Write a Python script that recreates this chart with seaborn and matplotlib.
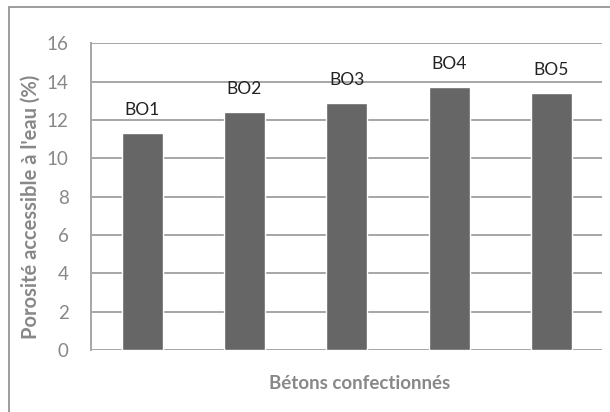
import matplotlib
matplotlib.use("Agg")
import matplotlib.pyplot as plt
import seaborn as sns
import pandas as pd
from matplotlib.patches import Rectangle

# Data
betons = ["BO1", "BO2", "BO3", "BO4", "BO5"]
porosite = [11.3, 12.4, 12.9, 13.7, 13.4]
y_ticks = [0, 2, 4, 6, 8, 10, 12, 14, 16]

df = pd.DataFrame({"beton": betons, "porosite": porosite})

sns.set_style("white")
plt.rcParams['font.family'] = ['Lato', 'DejaVu Sans']

grid_col = "#a6a6a6"
text_col = "#888888"

fig = plt.figure(figsize=(6.1, 4.12), dpi=100)
ax = fig.add_axes([0.1492, 0.1505, 0.8385, 0.7442])

sns.barplot(data=df, x="beton", y="porosite", color="#666666",
            saturation=1, width=0.4, ax=ax, zorder=3)

ax.set_ylim(0, 16)
ax.set_yticks(y_ticks)
ax.yaxis.grid(True, color=grid_col, linewidth=1.4, zorder=0)
ax.set_axisbelow(True)

# bar labels
ax.bar_label(ax.containers[0], labels=betons, padding=11, fontsize=12.5, color="#222222")

ax.set_xticks([])
ax.tick_params(axis="y", length=4.5, width=1.2, color=grid_col, pad=11.5,
               labelsize=13.5, labelcolor=text_col)
for s in ["top", "right", "bottom"]:
    ax.spines[s].set_visible(False)
ax.spines["left"].set_color(grid_col)
ax.spines["left"].set_linewidth(1.4)

ax.set_xlabel("Bétons confectionnés", fontsize=13.5, fontweight="bold",
              color=text_col)
ax.xaxis.set_label_coords(0.526, -0.08)
ax.set_ylabel("Porosité accessible à l'eau (%)", fontsize=14.5, fontweight="bold",
              color=text_col)
ax.yaxis.set_label_coords(-0.098, 0.466)

# chart area border (only left/top visible in the crop)
fig.patches.append(Rectangle((9 / 610, -0.1), 1.2, 1 - 7 / 412 + 0.1,
                             transform=fig.transFigure, fill=False,
                             edgecolor="#8c8c8c", linewidth=1.2))

plt.savefig("out.png", dpi=100)
